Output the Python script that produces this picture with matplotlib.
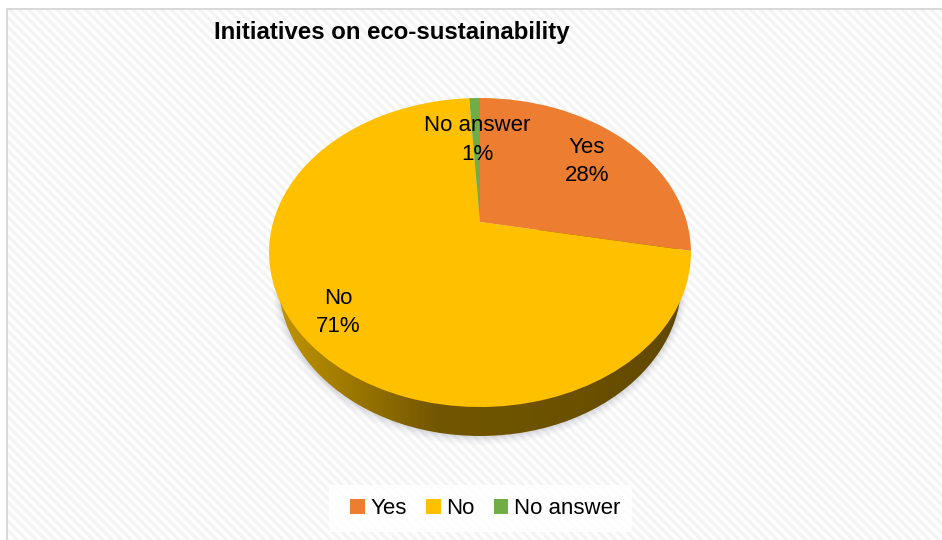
import numpy as np
import matplotlib
matplotlib.use("Agg")
import matplotlib.pyplot as plt
from matplotlib.patches import Circle, Rectangle
from matplotlib.transforms import Transform
from matplotlib.colors import LinearSegmentedColormap

title = "Initiatives on eco-sustainability"
categories = ["Yes", "No", "No answer"]
values = [28, 71, 1]
colors = ["#ED7D31", "#FFC000", "#70AD47"]

W, H = 942, 540
plt.rcParams["font.family"] = ["Liberation Sans", "DejaVu Sans"]
LABEL_SIZE = 16.0
TITLE_SIZE = 17.3


class Persp(Transform):
    """Tilted-disc projection of the unit pie onto pixel coordinates."""
    input_dims = output_dims = 2
    is_separable = False
    has_inverse = False

    def __init__(self, dy=0.0, xscale=1.0, grow=0.0):
        super().__init__()
        self.dy, self.xscale, self.grow = dy, xscale, grow

    def transform_non_affine(self, pts):
        pts = np.asarray(pts, dtype=float)
        v, u = pts[:, 0], -pts[:, 1]
        c, a, b, k = -0.1974, 104.66, 222.0, 206.8
        den = c * u + 1
        X = k * v / den * self.xscale
        Y = (a * u + b) / den - 252.5
        s = 1 + self.grow
        return np.column_stack([480 + s * X, 252.5 + self.dy + s * Y])


fig = plt.figure(figsize=(W / 100, H / 100), dpi=100, facecolor="white")
ax = fig.add_axes([0, 0, 1, 1])

wedges, _ = ax.pie(values, colors=colors, startangle=90, counterclock=False,
                   wedgeprops=dict(linewidth=0, zorder=5))

leg = ax.legend(wedges, categories, ncol=3, loc="center",
                bbox_to_anchor=(485.5, 508.5), bbox_transform=ax.transData,
                fontsize=LABEL_SIZE, handlelength=0.65, handleheight=0.65,
                handletextpad=0.27, columnspacing=0.86, borderpad=0.72,
                borderaxespad=0, frameon=False)
leg.set_zorder(8)
ax.add_patch(Rectangle((329, 485), 303, 47, facecolor="white", alpha=0.85,
                       linewidth=0, zorder=6))

# Wall-paper of the chart area
yy, xx = np.mgrid[0:H, 0:W]
stripes = 0.5 + 0.5 * np.cos(2 * np.pi * (xx - yy) / 9.5)
bg = 1 - 0.05 * stripes
bg[:, :6] = 1
bg[:8, :] = 1
bg[:, 6:8] = np.where(yy[:, 6:8] >= 8, 0.85, 1)
bg[8:10, 6:] = 0.85
ax.imshow(bg, cmap="gray", vmin=0, vmax=1, extent=(0, W, H, 0),
          interpolation="bilinear", zorder=0, aspect="auto")

# Soft shadow under the pie side
for g, d, al in [(0.03, 33, 0.03), (0.022, 32, 0.04), (0.015, 31, 0.06), (0.008, 30, 0.09)]:
    ax.add_patch(Circle((0, 0), 1, facecolor="#6A6F80", alpha=al, linewidth=0,
                        transform=Persp(dy=d, xscale=0.955, grow=g) + ax.transData, zorder=1))

# Pie side with horizontal shading
side_clip = Circle((0, 0), 1, facecolor="none", linewidth=0,
                   transform=Persp(dy=29, xscale=0.955) + ax.transData, zorder=2)
ax.add_patch(side_clip)
cmap = LinearSegmentedColormap.from_list(
    "side", [(0, "#C49700"), (0.17, "#A27C00"), (0.40, "#725600"), (0.75, "#6B5000"), (1, "#5F4700")])
grad = np.linspace(0, 1, 256)[None, :]
im = ax.imshow(grad, cmap=cmap, extent=(269, 691, 450, 230), aspect="auto", zorder=3)
im.set_clip_path(side_clip)

# Top face
for w in wedges:
    w.set_transform(Persp() + ax.transData)

# Slice labels
label_pos = {"Yes": (587, 161.5), "No": (338, 312.5), "No answer": (477, 140)}
for cat, val in zip(categories, values):
    x, y = label_pos[cat]
    ax.text(x, y, f"{cat}\n{val}%", ha="center", va="center", fontsize=LABEL_SIZE,
            color="black", linespacing=1.46, zorder=7)

ax.text(214, 32, title, ha="left", va="center", fontsize=TITLE_SIZE,
        fontweight="bold", color="black", zorder=7)

ax.set_aspect("auto")
ax.set_xlim(0, W)
ax.set_ylim(H, 0)
ax.axis("off")
fig.savefig("out.png", dpi=100)
